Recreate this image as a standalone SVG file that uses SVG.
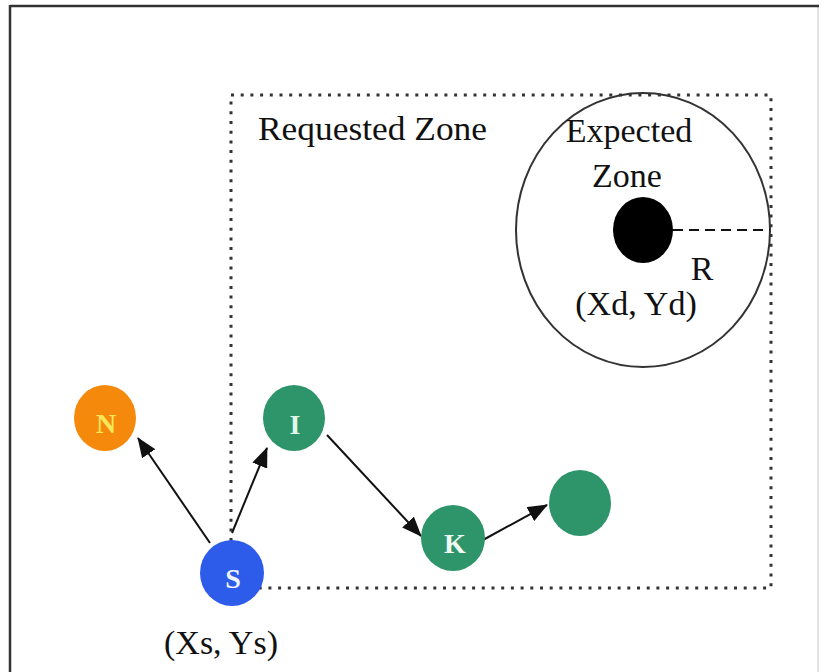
<svg xmlns="http://www.w3.org/2000/svg" width="826" height="672" viewBox="0 0 826 672">
<defs>
<style>
.lbl{font-family:"Liberation Serif","Times New Roman",serif;font-size:34px;fill:#111}
.nl{font-family:"Liberation Serif","Times New Roman",serif;font-size:28px;font-weight:bold;text-anchor:middle}
.edge{stroke:#111;stroke-width:2;fill:none;marker-end:url(#ah)}
.green{fill:#2E956A}
</style>
<marker id="ah" viewBox="0 0 20 16" refX="19" refY="8" markerWidth="20" markerHeight="16" markerUnits="userSpaceOnUse" orient="auto">
<path d="M0,0 L20,8 L0,16 Z" fill="#111"/>
</marker>
</defs>
<rect width="826" height="672" fill="#ffffff"/>
<g id="frame">
<line x1="818" y1="6" x2="818" y2="672" stroke="#d8d8d8" stroke-width="1.5"/>
<line x1="10" y1="6" x2="819" y2="6" stroke="#333" stroke-width="2.5"/>
<line x1="10" y1="5" x2="10" y2="672" stroke="#333" stroke-width="2.5"/>
</g>
<g id="requested-zone">
<rect x="231" y="95" width="540" height="493" fill="none" stroke="#333" stroke-width="3" stroke-dasharray="3 6.7"/>
<text class="lbl" x="258" y="140" textLength="229" lengthAdjust="spacingAndGlyphs">Requested Zone</text>
</g>
<g id="expected-zone">
<ellipse cx="643" cy="230" rx="127" ry="137" fill="none" stroke="#333" stroke-width="2"/>
<text class="lbl" x="629" y="142" text-anchor="middle">Expected</text>
<text class="lbl" x="627" y="187" text-anchor="middle">Zone</text>
<line x1="673" y1="230" x2="770" y2="230" stroke="#111" stroke-width="2" stroke-dasharray="10 6"/>
<text class="lbl" x="702" y="280" text-anchor="middle">R</text>
</g>
<g id="node-D">
<ellipse cx="643" cy="230" rx="30" ry="33" fill="#000"/>
<text class="lbl" x="636" y="315" text-anchor="middle">(Xd, Yd)</text>
</g>
<g id="connectors">
<line class="edge" x1="210" y1="543" x2="138" y2="438"/>
<line class="edge" x1="232" y1="533" x2="267" y2="448"/>
<line class="edge" x1="327" y1="435" x2="421" y2="536"/>
<line class="edge" x1="483" y1="540" x2="547" y2="505"/>
</g>
<g id="node-N">
<ellipse cx="105" cy="418" rx="31" ry="33" fill="#F5890C"/>
<text class="nl" x="106" y="433" fill="#F5E65A">N</text>
</g>
<g id="node-I">
<ellipse cx="294" cy="418" rx="31" ry="33" class="green"/>
<text class="nl" x="295" y="434" fill="#E2F7EA">I</text>
</g>
<g id="node-S">
<ellipse cx="232" cy="573" rx="32" ry="33" fill="#2D5CEB"/>
<text class="nl" x="233" y="588" fill="#F0F4FF">S</text>
</g>
<g id="node-K">
<ellipse cx="453" cy="538" rx="32" ry="33" class="green"/>
<text class="nl" x="455" y="553" fill="#F0FAF4">K</text>
</g>
<g id="node-U">
<ellipse cx="580" cy="503" rx="31" ry="33" class="green"/>
</g>
<g id="source-coords">
<text class="lbl" x="221" y="654" text-anchor="middle">(Xs, Ys)</text>
</g>
</svg>
